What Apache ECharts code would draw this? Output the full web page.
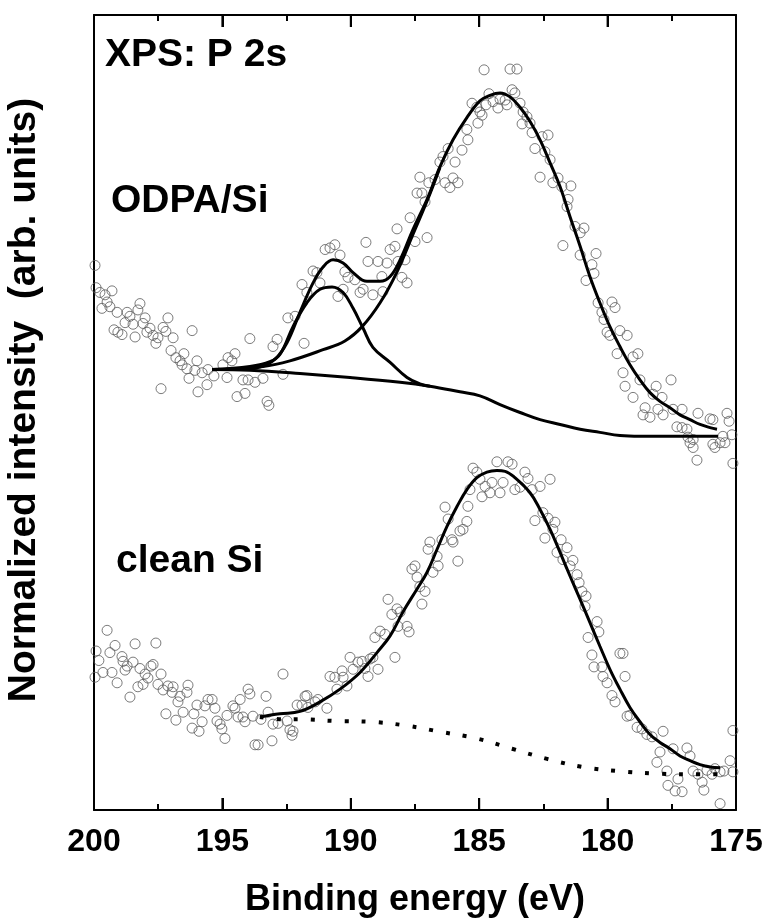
<!DOCTYPE html>
<html>
<head>
<meta charset="utf-8">
<title>XPS P 2s</title>
<script src="https://cdn.jsdelivr.net/npm/echarts@6/dist/echarts.min.js"></script>
<style>
    html, body {margin: 0; padding: 0; background: #fff;}
    #chart {width: 773px; height: 923px;}
</style>
</head>
<body>
<div id="chart"></div>
<script>
// binding energy (eV) vs normalized intensity (arb. units, 0..100 over the frame)
let xTicks = [200, 195, 190, 185, 180, 175];

// ODPA/Si measured points
let odpaPoints = [
    [199.96, 68.5], [199.92, 65.7], [199.77, 65.1], [199.57, 64.8], [199.30, 65.3], [199.49, 63.9], [199.69, 63.1],
    [199.38, 63.3], [199.10, 62.6], [198.71, 62.6], [198.60, 62.1], [198.21, 63.7], [198.29, 62.9], [198.79, 61.3],
    [198.48, 61.1], [198.01, 61.9], [198.09, 61.2], [199.22, 60.4], [198.91, 59.8], [199.07, 60.1], [198.40, 59.5],
    [197.82, 60.6], [197.94, 60.1], [197.70, 59.7], [197.51, 59.4], [197.59, 58.7], [197.31, 60.7], [197.20, 60.2],
    [197.12, 61.9], [196.92, 59.4], [196.18, 60.3], [197.00, 57.8], [196.81, 56.9], [196.65, 56.5], [196.50, 57.4],
    [196.57, 56.0], [196.38, 55.5], [195.99, 56.5], [196.07, 55.3], [195.79, 55.0], [195.56, 55.4], [196.30, 54.3],
    [197.39, 53.0], [195.95, 52.6], [195.60, 53.5], [195.33, 54.6], [194.98, 56.0], [194.78, 56.9], [194.51, 57.4],
    [194.63, 56.5], [194.82, 54.4], [194.43, 52.0], [194.12, 52.4], [194.20, 54.1], [194.00, 54.1], [193.73, 53.8],
    [193.42, 54.3], [193.93, 59.3], [193.26, 51.4], [193.19, 50.9], [193.03, 58.3], [192.87, 59.2], [192.64, 54.8],
    [192.45, 61.9], [192.17, 62.1], [191.82, 58.7], [191.90, 66.1], [191.71, 65.1], [191.47, 67.8], [191.32, 67.6],
    [191.20, 66.3], [191.00, 70.5], [190.81, 70.7], [190.62, 71.1], [190.42, 69.8], [190.23, 67.7], [190.11, 67.0],
    [190.50, 64.6], [190.30, 65.5], [189.84, 66.7], [189.64, 65.1], [189.52, 65.5], [189.41, 71.4], [189.33, 69.0],
    [189.14, 64.8], [188.94, 69.0], [188.79, 67.1], [188.59, 68.8], [188.75, 65.2], [188.47, 70.5], [188.28, 70.9],
    [188.20, 73.1], [188.16, 69.0], [188.01, 67.0], [187.81, 66.3], [187.89, 69.2], [187.69, 74.5], [187.50, 71.5],
    [187.03, 72.0], [187.42, 77.6], [187.31, 79.6], [187.23, 77.6], [187.11, 76.5], [186.96, 78.9], [186.72, 79.3],
    [186.53, 81.5], [186.41, 82.2], [186.21, 83.2], [186.33, 78.9], [186.14, 78.3], [186.02, 79.5], [185.83, 78.9],
    [185.94, 81.5], [185.67, 83.0], [185.48, 85.6], [185.44, 84.3], [185.28, 88.9], [185.09, 88.4], [185.05, 86.4],
    [184.81, 93.1], [183.80, 93.2], [183.53, 93.2], [184.97, 87.8], [184.89, 87.4], [184.74, 88.7], [184.62, 90.1],
    [184.46, 89.1], [184.27, 88.3], [184.19, 89.4], [183.99, 89.3], [183.92, 88.7], [183.72, 90.6], [183.61, 90.2],
    [183.41, 88.9], [183.29, 87.8], [183.14, 87.2], [183.33, 86.3], [183.02, 86.4], [182.94, 85.2], [182.55, 84.7],
    [182.32, 84.9], [182.83, 83.2], [182.44, 82.8], [182.24, 81.8], [182.63, 79.6], [182.13, 78.9], [181.93, 79.5],
    [181.78, 78.4], [181.43, 78.5], [181.54, 76.8], [181.58, 75.9], [181.27, 73.4], [181.07, 72.6], [180.92, 73.2],
    [181.74, 71.0], [181.07, 69.8], [180.45, 70.0], [180.61, 68.6], [180.53, 67.5], [180.84, 66.6], [180.37, 63.8],
    [180.22, 62.6], [180.14, 61.7], [179.83, 63.9], [179.71, 63.2], [180.02, 60.1], [179.91, 59.7], [179.52, 60.3],
    [179.24, 59.7], [179.63, 57.4], [179.01, 57.0], [178.82, 57.4], [179.40, 55.0], [179.32, 53.3], [179.01, 51.9],
    [178.74, 54.1], [178.11, 53.3], [178.23, 52.3], [177.88, 51.9], [177.53, 54.1], [178.54, 50.6], [178.62, 49.7],
    [178.35, 49.4], [178.04, 50.4], [177.84, 49.7], [177.45, 50.4], [177.10, 50.4], [177.30, 48.2], [177.10, 48.1],
    [176.91, 47.9], [176.48, 49.9], [176.01, 49.2], [175.90, 49.1], [176.87, 46.9], [176.67, 46.6], [175.90, 46.0],
    [175.35, 49.9], [175.27, 48.9], [175.51, 47.0], [175.43, 46.2], [175.16, 47.2], [176.79, 46.2], [176.67, 45.6],
    [176.52, 44.0], [175.12, 43.6], [175.82, 45.6], [175.62, 46.2]
];

// ODPA/Si fit: envelope, two components (each on background), background
let odpaEnvelope = [
    [195.40, 55.4], [194.31, 55.4], [193.54, 55.7], [192.95, 56.7], [192.48, 58.8], [191.98, 62.6], [191.47, 66.3],
    [191.08, 68.3], [190.69, 69.2], [190.30, 68.8], [189.91, 67.6], [189.37, 66.5], [188.86, 66.5], [188.47, 67.1],
    [188.08, 69.2], [187.58, 73.0], [187.03, 76.8], [186.53, 80.9], [186.02, 84.3], [185.48, 87.1], [184.97, 89.2],
    [184.58, 89.9], [184.19, 90.2], [183.80, 89.7], [183.41, 88.4], [183.02, 86.6], [182.63, 84.3], [182.24, 81.4],
    [181.85, 78.4], [181.46, 74.6], [181.07, 70.9], [180.69, 67.1], [180.30, 63.8], [179.91, 60.8], [179.52, 58.3],
    [179.13, 56.0], [178.74, 54.1], [178.35, 52.5], [177.96, 51.4], [177.57, 50.6], [177.18, 49.7], [176.79, 49.1],
    [176.40, 48.5], [176.01, 48.1], [175.74, 47.9]
];
let odpaPeak1 = [
    [195.40, 55.4], [193.93, 55.8], [193.15, 56.4], [192.76, 57.3], [192.25, 60.8], [191.71, 63.8], [191.20, 65.5],
    [190.73, 65.8], [190.30, 65.1], [189.91, 63.1], [189.52, 60.6], [189.14, 58.2], [188.47, 56.3], [187.81, 54.4],
    [187.31, 53.6], [186.92, 53.3]
];
let odpaPeak2 = [
    [195.40, 55.4], [193.42, 55.8], [192.37, 56.5], [191.08, 57.9], [190.23, 59.0], [189.56, 60.8], [188.86, 63.8],
    [188.20, 67.7], [187.58, 72.4], [187.03, 76.6], [186.53, 80.8]
];
let odpaBackground = [
    [195.40, 55.4], [193.93, 55.3], [191.98, 54.9], [190.03, 54.4], [188.08, 53.8], [186.92, 53.3], [185.75, 52.6],
    [184.97, 52.1], [184.19, 51.0], [183.41, 50.0], [182.63, 49.1], [181.85, 48.5], [181.07, 47.9], [180.30, 47.5],
    [179.52, 47.1], [178.74, 47.0], [177.18, 47.0], [175.70, 47.0]
];

// clean Si measured points
let cleanPoints = [
    [199.49, 22.6], [199.92, 20.0], [199.81, 18.8], [199.96, 16.7], [199.65, 17.3], [199.30, 17.3], [199.38, 19.8],
    [199.18, 20.7], [198.91, 19.3], [198.87, 18.7], [198.79, 17.6], [198.48, 18.6], [198.40, 20.9], [198.71, 18.1],
    [199.10, 16.0], [198.60, 14.2], [198.21, 17.8], [198.01, 17.1], [197.90, 16.6], [197.70, 18.3], [197.78, 18.1],
    [197.59, 21.0], [198.29, 15.5], [198.09, 15.8], [197.51, 15.8], [197.39, 17.1], [197.31, 15.1], [197.12, 15.6],
    [196.96, 14.8], [196.92, 15.5], [196.65, 14.3], [196.73, 13.6], [196.34, 15.7], [196.38, 14.8], [197.20, 12.1],
    [196.81, 11.3], [196.53, 12.3], [196.11, 12.1], [195.99, 13.2], [195.68, 13.1], [195.56, 13.9], [195.40, 13.9],
    [195.29, 12.8], [196.18, 10.3], [195.79, 11.1], [195.91, 9.9], [195.21, 11.2], [195.09, 10.8], [195.02, 10.2],
    [194.90, 9.0], [194.82, 11.9], [194.59, 13.1], [194.51, 12.8], [194.31, 13.9], [194.39, 11.7], [194.12, 11.1],
    [194.20, 11.7], [194.00, 15.2], [193.93, 14.6], [193.81, 11.8], [193.73, 8.2], [193.61, 8.2], [193.50, 11.4],
    [193.30, 14.3], [193.22, 12.3], [193.07, 8.7], [193.03, 10.8], [192.83, 10.9], [192.64, 17.1], [192.48, 11.2],
    [192.37, 10.1], [192.29, 9.4], [192.25, 9.9], [192.09, 13.2], [191.90, 13.2], [191.78, 14.3], [191.71, 14.4],
    [191.67, 12.9], [191.39, 13.6], [191.28, 13.9], [190.93, 12.8], [190.81, 16.8], [190.62, 16.7], [190.54, 15.2],
    [190.34, 17.5], [190.30, 16.7], [190.15, 15.6], [190.03, 19.2], [189.91, 17.7], [189.72, 18.6], [189.56, 18.7],
    [189.45, 17.8], [189.33, 16.8], [189.25, 19.0], [189.14, 19.2], [188.94, 17.7], [189.06, 21.7], [188.86, 22.5],
    [188.67, 22.1], [188.55, 26.5], [188.40, 24.6], [188.20, 25.3], [188.08, 24.9], [188.28, 19.2], [188.16, 23.1],
    [187.81, 23.1], [187.73, 22.4], [187.62, 30.3], [187.50, 30.7], [187.42, 29.3], [187.23, 25.9], [187.11, 27.5],
    [187.31, 28.1], [186.99, 32.8], [186.92, 33.7], [186.80, 29.9], [186.60, 30.7], [186.64, 31.9], [186.45, 34.0],
    [186.33, 38.1], [186.21, 36.6], [186.06, 34.0], [186.02, 33.7], [185.83, 31.3], [185.75, 35.1], [185.63, 35.3],
    [185.48, 36.3], [185.44, 38.2], [185.36, 40.3], [185.24, 43.0], [185.09, 42.5], [184.97, 41.6], [184.89, 39.4],
    [184.77, 40.7], [184.58, 39.9], [184.50, 41.2], [184.31, 43.8], [184.19, 39.9], [184.07, 41.2], [183.88, 43.8],
    [183.72, 43.5], [183.61, 40.3], [183.22, 42.5], [183.10, 41.7], [182.24, 41.6], [183.41, 40.6], [182.94, 40.3],
    [182.63, 40.7], [182.83, 36.4], [182.44, 34.2], [182.52, 37.4], [182.32, 36.7], [182.05, 36.2], [182.13, 35.3],
    [181.81, 34.0], [181.97, 32.4], [181.58, 33.0], [181.74, 31.5], [181.35, 31.4], [181.46, 30.7], [181.19, 29.6],
    [181.11, 28.6], [181.00, 27.5], [180.84, 26.9], [180.88, 25.6], [180.41, 23.7], [180.34, 22.4], [180.76, 21.7],
    [180.61, 19.5], [180.53, 18.0], [180.22, 18.0], [180.18, 16.8], [180.02, 16.0], [179.83, 14.4], [179.71, 13.6],
    [179.52, 19.7], [179.40, 19.7], [179.32, 16.8], [179.24, 11.8], [179.13, 11.9], [178.85, 10.4], [178.66, 10.2],
    [178.47, 9.5], [178.27, 9.2], [177.84, 9.9], [177.96, 7.3], [178.08, 6.0], [177.69, 4.9], [177.45, 7.7],
    [177.26, 3.9], [177.65, 3.1], [177.37, 2.4], [177.10, 2.3], [176.91, 7.8], [176.79, 6.8], [176.67, 4.9],
    [176.48, 4.5], [176.32, 3.5], [176.25, 2.5], [176.13, 5.0], [175.93, 4.5], [175.82, 5.2], [175.62, 4.8],
    [175.47, 4.9], [175.23, 6.2], [175.12, 10.0], [175.62, 0.8], [175.12, 4.8]
];

// clean Si fit and its (dotted) background
let cleanFit = [
    [193.54, 11.7], [192.76, 12.1], [191.98, 12.4], [191.20, 13.6], [190.42, 15.2], [189.64, 17.3], [188.98, 19.8],
    [188.47, 21.9], [187.97, 24.9], [187.42, 27.8], [187.03, 29.9], [186.64, 32.8], [186.25, 35.7], [185.86, 38.2],
    [185.48, 40.3], [185.09, 41.8], [184.70, 42.5], [184.31, 42.7], [183.99, 42.6], [183.61, 41.8], [183.02, 39.9],
    [182.63, 37.8], [182.24, 35.3], [181.85, 32.4], [181.46, 29.4], [181.07, 26.5], [180.69, 23.6], [180.30, 20.6],
    [179.91, 17.7], [179.52, 15.2], [179.13, 12.9], [178.74, 11.1], [178.35, 9.5], [177.96, 8.5], [177.57, 7.7],
    [177.18, 6.8], [176.79, 6.2], [176.40, 5.7], [176.01, 5.4], [175.62, 5.3]
];
let cleanBackground = [
    [193.54, 11.7], [192.64, 11.4], [191.98, 11.4], [190.62, 11.2], [189.25, 11.1], [187.81, 10.6], [186.45, 9.8],
    [185.09, 9.0], [183.72, 7.7], [182.32, 6.4], [180.96, 5.4], [179.60, 4.9], [178.23, 4.6], [176.87, 4.5],
    [175.51, 4.5]
];

let chart = echarts.init(document.getElementById('chart'));

let font = '"Liberation Sans", Arial, sans-serif';

let pointStyle = {
    color: 'transparent',
    borderColor: '#5a5a5a',
    borderWidth: 1
};

function fitLine(data, extra) {
    let s = {
        type: 'line',
        data: data,
        smooth: 0.4,
        showSymbol: false,
        silent: true,
        z: 5,
        lineStyle: {color: '#000', width: 3}
    };
    return Object.assign(s, extra || {});
}

function scatterOf(data) {
    return {
        type: 'scatter',
        data: data,
        symbol: 'circle',
        symbolSize: 10,
        itemStyle: pointStyle,
        silent: true,
        z: 3
    };
}

// major ticks did not render from axisTick here, so draw them on the axis scale:
// one inward stub at the bottom edge and one at the top edge per tick value
let majorTicks = {
    type: 'custom',
    coordinateSystem: 'cartesian2d',
    silent: true,
    z: 10,
    clip: false,
    data: xTicks.map(function (v) {
        return [v, 0];
    }),
    encode: {x: 0, y: 1},
    renderItem: function (params, api) {
        let bottom = api.coord([api.value(0), 0]);
        let top = api.coord([api.value(0), 100]);
        let stroke = {stroke: '#000', lineWidth: 2};
        return {
            type: 'group',
            children: [
                {type: 'line', shape: {x1: bottom[0], y1: bottom[1], x2: bottom[0], y2: bottom[1] - 12}, style: stroke},
                {type: 'line', shape: {x1: top[0], y1: top[1], x2: top[0], y2: top[1] + 12}, style: stroke}
            ]
        };
    }
};

// bottom and top x axes share range and inward ticks
function xAxisOf(pos, showLabel) {
    return {
        type: 'value',
        position: pos,
        min: xTicks[xTicks.length - 1],
        max: xTicks[0],
        interval: 5,
        inverse: true,
        axisLine: {show: true, onZero: false, lineStyle: {color: '#000', width: 2}},
        axisTick: {show: true, inside: true, length: 12, lineStyle: {color: '#000', width: 2}},
        minorTick: {show: true, splitNumber: 2, length: 6, lineStyle: {color: '#000', width: 2}},
        splitLine: {show: false},
        minorSplitLine: {show: false},
        axisLabel: {
            show: showLabel,
            margin: 16,
            color: '#000',
            fontFamily: font,
            fontWeight: 'bold',
            fontSize: 32
        }
    };
}

let bottomAxis = xAxisOf('bottom', true);
bottomAxis.name = 'Binding energy (eV)';
bottomAxis.nameLocation = 'middle';
bottomAxis.nameGap = 72;
bottomAxis.nameTextStyle = {fontFamily: font, fontWeight: 'bold', fontSize: 36, color: '#000'};

let option = {
    animation: false,
    backgroundColor: '#fff',
    grid: {left: 94, right: 37, top: 15, bottom: 112},
    xAxis: [bottomAxis, xAxisOf('top', false)],
    yAxis: [
        {
            type: 'value', min: 0, max: 100, position: 'left',
            axisLine: {show: true, lineStyle: {color: '#000', width: 2}},
            axisTick: {show: false}, axisLabel: {show: false}, splitLine: {show: false}
        },
        {
            type: 'value', min: 0, max: 100, position: 'right',
            axisLine: {show: true, lineStyle: {color: '#000', width: 2}},
            axisTick: {show: false}, axisLabel: {show: false}, splitLine: {show: false}
        }
    ],
    graphic: [
        {
            type: 'text', x: 24, y: 400, rotation: Math.PI / 2,
            style: {text: 'Normalized intensity  (arb. units)', font: 'bold 39px ' + font, fill: '#000',
                align: 'center', verticalAlign: 'middle'}
        },
        {
            type: 'text', x: 105, y: 55,
            style: {text: 'XPS: P 2s', font: 'bold 39px ' + font, fill: '#000', align: 'left', verticalAlign: 'middle'}
        },
        {
            type: 'text', x: 111, y: 201,
            style: {text: 'ODPA/Si', font: 'bold 39px ' + font, fill: '#000', align: 'left', verticalAlign: 'middle'}
        },
        {
            type: 'text', x: 116, y: 561,
            style: {text: 'clean Si', font: 'bold 39px ' + font, fill: '#000', align: 'left', verticalAlign: 'middle'}
        }
    ],
    series: [
        scatterOf(odpaPoints),
        scatterOf(cleanPoints),
        fitLine(odpaBackground),
        fitLine(odpaPeak1),
        fitLine(odpaPeak2),
        fitLine(odpaEnvelope),
        fitLine(cleanBackground, {lineStyle: {color: '#000', width: 4, type: [4, 13], cap: 'butt'}}),
        fitLine(cleanFit),
        majorTicks
    ]
};

chart.setOption(option);
</script>
</body>
</html>
